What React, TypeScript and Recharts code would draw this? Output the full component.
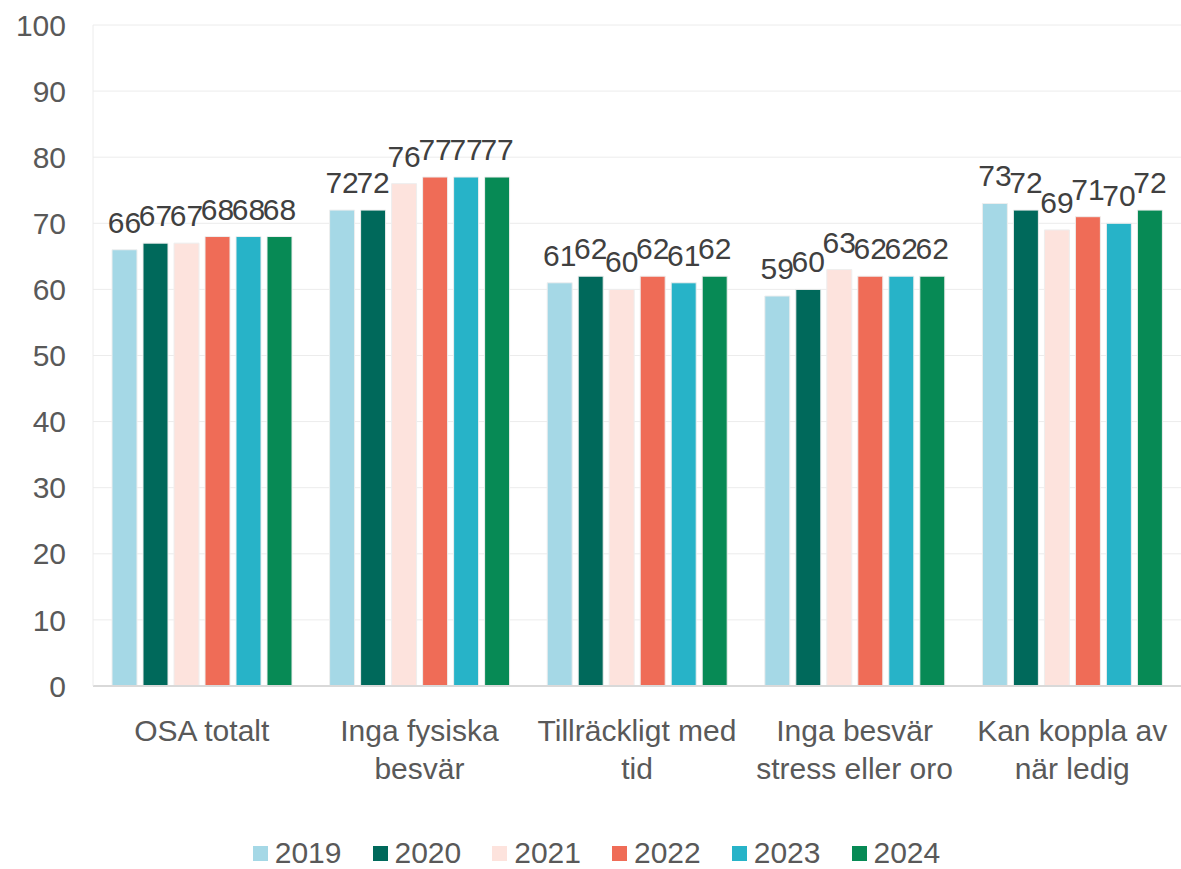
import { BarChart, Bar, XAxis, YAxis, CartesianGrid, Legend, LabelList } from "recharts";

const CATEGORIES = [
  "OSA totalt",
  "Inga fysiska\nbesvär",
  "Tillräckligt med\ntid",
  "Inga besvär\nstress eller oro",
  "Kan koppla av\nnär ledig",
];

const YEARS = ["2019", "2020", "2021", "2022", "2023", "2024"];

const V2019 = [66, 72, 61, 59, 73];
const V2020 = [67, 72, 62, 60, 72];
const V2021 = [67, 76, 60, 63, 69];
const V2022 = [68, 77, 62, 62, 71];
const V2023 = [68, 77, 61, 62, 70];
const V2024 = [68, 77, 62, 62, 72];

const Y_TICKS = [0, 10, 20, 30, 40, 50, 60, 70, 80, 90, 100];

const COLORS = ["#a5d8e6", "#00695b", "#fde3dd", "#ef6c57", "#27b3c8", "#078a55"];

const SERIES = [V2019, V2020, V2021, V2022, V2023, V2024];

const data = CATEGORIES.map((name, i) => {
  const row: Record<string, string | number> = { name };
  YEARS.forEach((y, s) => {
    row[y] = SERIES[s][i];
  });
  return row;
});

const FONT = "'Liberation Sans', Arial, sans-serif";
const FS = 30;

function CategoryTick(props: any) {
  const { x, y, payload } = props;
  const lines = String(payload.value).split("\n");
  return (
    <text x={x} y={y + 47} textAnchor="middle" fill="#595959" fontSize={FS} fontFamily={FONT}>
      {lines.map((l, i) => (
        <tspan key={i} x={x} dy={i === 0 ? 0 : 38}>
          {l}
        </tspan>
      ))}
    </text>
  );
}

function YearLegend() {
  return (
    <div
      style={{
        height: 32,
        display: "flex",
        justifyContent: "center",
        alignItems: "center",
        paddingLeft: 12,
        fontFamily: FONT,
        fontSize: FS,
        lineHeight: "32px",
        color: "#595959",
      }}
    >
      {YEARS.map((y, i) => (
        <div key={y} style={{ display: "flex", alignItems: "center", marginRight: i < YEARS.length - 1 ? 31 : 0 }}>
          <span
            style={{
              width: 15,
              height: 15,
              background: COLORS[i],
              marginRight: 7,
              display: "inline-block",
            }}
          />
          <span>{y}</span>
        </div>
      ))}
    </div>
  );
}

export default function App() {
  return (
    <div style={{ position: "absolute", left: 0, top: 0, width: 1181, height: 869, background: "#fff" }}>
      <BarChart
        width={1181}
        height={869}
        data={data}
        margin={{ top: 25, right: 0, left: 0, bottom: 0 }}
        barCategoryGap={19}
        barGap={6}
      >
        <CartesianGrid stroke="#ececec" vertical={false} />
        <XAxis
          dataKey="name"
          tick={<CategoryTick />}
          tickLine={false}
          axisLine={{ stroke: "#d9d9d9", strokeWidth: 2 }}
          interval={0}
          height={151}
        />
        <YAxis
          domain={[0, 100]}
          ticks={Y_TICKS}
          width={93}
          tickLine={false}
          tickSize={0}
          tickMargin={27}
          axisLine={{ stroke: "#ececec" }}
          tick={{ fill: "#595959", fontSize: FS, fontFamily: FONT }}
        />
        <Legend verticalAlign="bottom" height={32} content={<YearLegend />} />
        {YEARS.map((y, i) => (
          <Bar
            key={y}
            dataKey={y}
            fill={COLORS[i]}
            stroke="#eeeeee"
            strokeWidth={1}
            isAnimationActive={false}
          >
            <LabelList
              dataKey={y}
              position="top"
              offset={17}
              fill="#404040"
              fontSize={FS}
              fontFamily={FONT}
            />
          </Bar>
        ))}
      </BarChart>
    </div>
  );
}
